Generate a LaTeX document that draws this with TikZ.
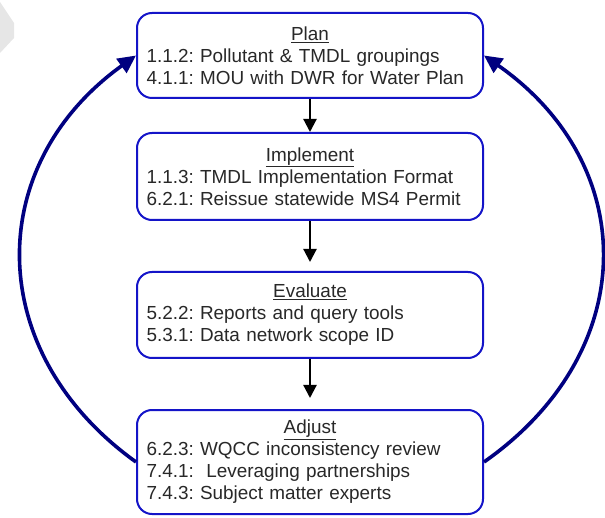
\documentclass[tikz,border=0pt]{standalone}
\usepackage{fontspec}
\setmainfont{Liberation Sans}
\usetikzlibrary{arrows.meta}
\definecolor{boxblue}{RGB}{20,20,200}
\definecolor{arcnavy}{RGB}{0,0,128}
\definecolor{txt}{RGB}{40,40,40}
\definecolor{ghost}{RGB}{230,230,230}
\frenchspacing
\begin{document}
\begin{tikzpicture}[x=1pt,y=-1pt,
 stage/.style={draw=boxblue, line width=2pt, rounded corners=15pt, fill=white,
   minimum width=346pt, text width=327pt, inner xsep=9.5pt, inner ysep=0pt,
   font=\fontsize{18.9}{22}\selectfont, text=txt},
 flow/.style={-{Triangle[length=13pt,width=13pt]}, line width=2.2pt, black},
 loop/.style={-{Triangle[length=18pt,width=17pt]}, line width=3.6pt, arcnavy}]
\useasboundingbox (0,0) rectangle (605,518);
\fill[ghost] (0,2) -- (14,23) -- (14,38) -- (0,53) -- cycle;

\node[stage, minimum height=85pt] (plan) at (310,55.5)
 {\centering\underline{Plan}\par\raggedright
  1.1.2: Pollutant \& TMDL groupings\\
  4.1.1: MOU with DWR for Water Plan};
\node[stage, minimum height=87pt] (impl) at (310,176.5)
 {\centering\underline{Implement}\par\raggedright
  1.1.3: TMDL Implementation Format\\
  6.2.1: Reissue statewide MS4 Permit};
\node[stage, minimum height=86pt] (eval) at (310,315)
 {\centering\underline{Evaluate}\par\raggedright
  5.2.2: Reports and query tools\\
  5.3.1: Data network scope ID};
\node[stage, minimum height=104pt] (adj) at (310,462)
 {\centering\underline{Adjust}\par\raggedright
  6.2.3: WQCC inconsistency review\\
  7.4.1:\ \ Leveraging partnerships\\
  7.4.3: Subject matter experts};

\draw[flow] (plan) -- (impl);
\draw[flow, shorten >=9pt] (impl) -- (eval);
\draw[flow, shorten >=11pt] (eval) -- (adj);

\draw[loop] (adj.west) .. controls +(-153,-110) and +(-153,110) .. (plan.west);
\draw[loop] (adj.east) .. controls +(157,-110) and +(157,110) .. (plan.east);
\end{tikzpicture}
\end{document}
